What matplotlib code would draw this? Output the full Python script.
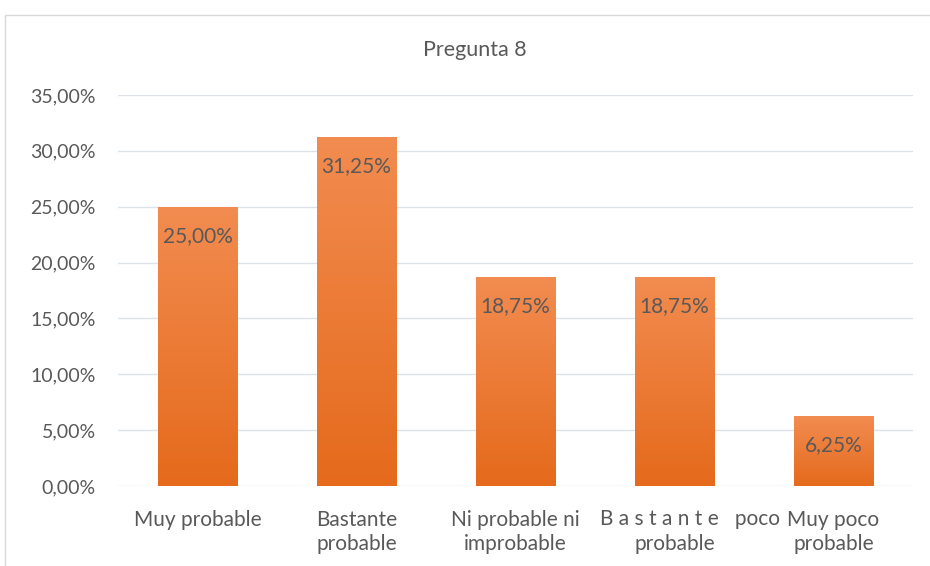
import numpy as np
import matplotlib.pyplot as plt
from matplotlib.patches import Rectangle
from matplotlib.ticker import FuncFormatter
from matplotlib.colors import LinearSegmentedColormap

categorias = ["Muy probable", "Bastante\nprobable", "Ni probable ni\nimprobable",
              "B a s t a n t e   poco\nprobable", "Muy poco\nprobable"]
valores = [25.00, 31.25, 18.75, 18.75, 6.25]
yticks = [0, 5, 10, 15, 20, 25, 30, 35]

plt.rcParams['font.family'] = ['Lato', 'DejaVu Sans']
gris = "#595959"

fig = plt.figure(figsize=(9.3, 5.66), dpi=100)
ax = fig.add_axes([118 / 930, 1 - 486 / 566, (913 - 118) / 930, (486 - 95) / 566])

# marco del grafico
fig.patches.append(Rectangle((5 / 930, -0.01), 1.0, 1 - 15 / 566 + 0.01,
                             transform=fig.transFigure, fill=False,
                             edgecolor="#D9D9D9", lw=1))

x = np.arange(len(valores))
bars = ax.bar(x, valores, width=0.5, color="none", zorder=3)

# degradado naranja en cada barra
grad = np.linspace(0, 1, 256).reshape(-1, 1)
cmap = LinearSegmentedColormap.from_list("nar", ["#E56A1C", "#F28C50"])
for b in bars:
    x0, w, h = b.get_x(), b.get_width(), b.get_height()
    im = ax.imshow(grad, cmap=cmap, origin="lower", aspect="auto",
                   extent=[x0, x0 + w, 0, h], zorder=3)
    im.set_clip_path(b)

for xi, v in zip(x, valores):
    ax.annotate(f"{v:.2f}%".replace(".", ","), (xi, v), xytext=(0, -21),
                textcoords="offset points", ha="center", va="center",
                color=gris, fontsize=15, zorder=4)

ax.set_xlim(-0.5, 4.5)
ax.set_ylim(0, 35)
ax.set_yticks(yticks)
ax.yaxis.set_major_formatter(FuncFormatter(lambda v, p: f"{v:.2f}%".replace(".", ",")))
ax.set_xticks(x)
# la 4a etiqueta se dibuja aparte: su primera linea va desplazada a la derecha
linea1, linea2 = categorias[3].split("\n")
etiquetas = list(categorias)
etiquetas[3] = ""
ax.set_xticklabels(etiquetas, linespacing=1.3)
for dx, dy, txt in [(0.1, -23.5, linea1), (0.0, -42.0, linea2)]:
    ax.annotate(txt, (x[3] + dx, 0), xycoords=("data", "axes fraction"),
                xytext=(0, dy), textcoords="offset points", ha="center",
                va="center", color=gris, fontsize=15)
ax.tick_params(axis="y", length=0, colors=gris, labelsize=14, pad=16)
ax.tick_params(axis="x", length=0, colors=gris, labelsize=15, pad=17)
ax.grid(axis="y", color="#DDE1E8", lw=1, zorder=0)
for s in ax.spines.values():
    s.set_visible(False)

fig.text(475 / 930, 1 - 50 / 566, "Pregunta 8", ha="center", va="center",
         color=gris, fontsize=15.5)

fig.savefig("out.png", dpi=100)
